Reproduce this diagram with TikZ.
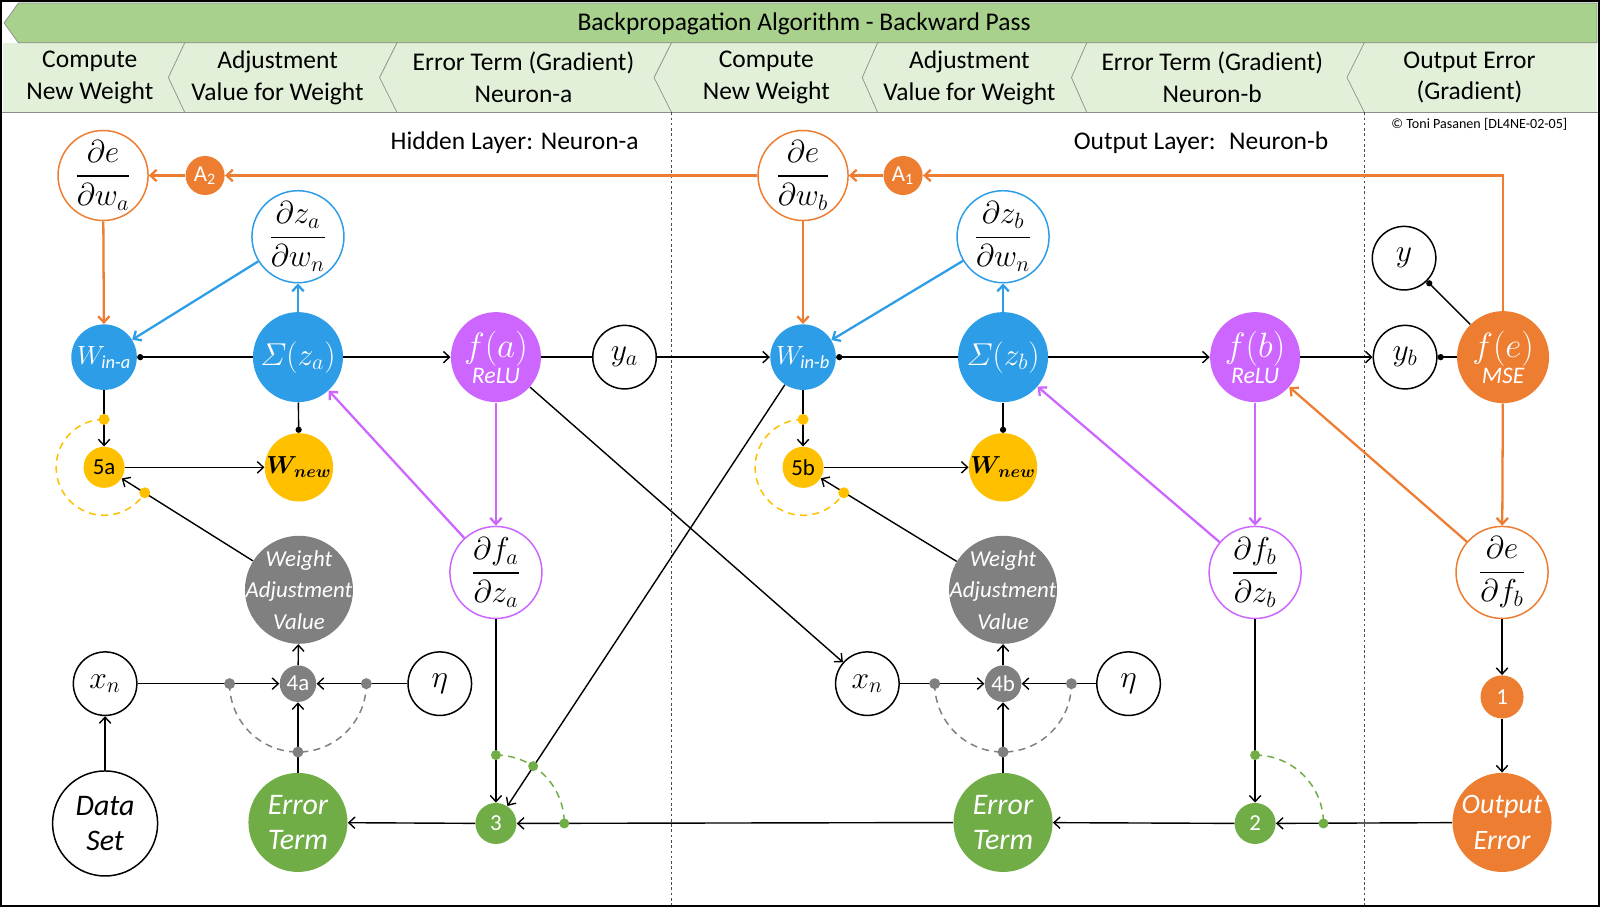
\RequirePackage{fix-cm}
\documentclass[tikz,border=0pt]{standalone}
\usepackage{amsmath}
\usepackage{amssymb}
\usepackage{fontspec}
\setmainfont{Carlito}
\usepackage{tikz}
\usetikzlibrary{arrows.meta}

\definecolor{nblue}{RGB}{46,157,232}
\definecolor{npurple}{RGB}{204,102,255}
\definecolor{norange}{RGB}{237,125,49}
\definecolor{nyellow}{RGB}{255,192,0}
\definecolor{ngreen}{RGB}{112,173,71}
\definecolor{ngray}{RGB}{128,128,128}
\definecolor{hdgreen}{RGB}{169,209,142}
\definecolor{hdlight}{RGB}{226,240,217}

\newcommand{\clin}[1]{\makebox[0pt]{#1}} % line that does not widen its disc
\newcommand{\pfrac}[2]{\clin{$\dfrac{\partial #1}{\partial #2}$}} % partial derivative

\tikzset{>={Straight Barb[length=3.5pt,width=6.5pt]}, % open arrow heads
         disc/.style={circle, inner sep=0pt, minimum size=#1}, % every part of a neuron is a disc
         ring/.style={draw=#1, fill=white, line width=0.85pt},
         filled/.style={fill=#1, text=white},
         fracfont/.style={font=\fontsize{18}{21}\selectfont},
         symfont/.style={font=\fontsize{18}{20}\selectfont},
         tagfont/.style={font=\fontsize{13}{13}\selectfont},
         actfont/.style={align=center, font=\fontsize{13.5}{15}\selectfont\itshape},
         wordfont/.style={align=center, font=\fontsize{17}{20}\selectfont\itshape},
         headfont/.style={align=center, font=\fontsize{14.5}{18}\selectfont},
         dotnode/.style={circle, fill=#1, inner sep=0pt, minimum size=0.22cm},
         arcline/.style={draw=#1, line width=0.85pt, dash pattern=on 4pt off 3pt},
         sepline/.style={draw=black!70, line width=0.5pt, dash pattern=on 1.5pt off 1.5pt},
         every edge/.style={ % black connectors
           draw, ->, line width=0.8pt},
         oline/.style={norange, line width=1.3pt},
         bline/.style={nblue, line width=1.3pt},
         pline/.style={npurple, line width=1.3pt},
         dotline/.style={{Circle[length=3.5pt]}-},
         dotend/.style={-{Circle[length=3.5pt]}}}

\begin{document}
\begin{tikzpicture}[x=0.0204cm, y=0.0204cm]
\useasboundingbox (0,0) rectangle (1568,889);

% header
\fill[hdlight] (3,779) rectangle (1565,847);
\draw[black!45, fill=hdgreen] (18,886) -- (1565,886) -- (1565,847) -- (18,847) -- (4,866.5) -- cycle;
\foreach \t/\m in {181/165, 389/372, 658/641, 860/845, 1065/1050, 1337/1320}
  \draw[black!45] (\t,847) -- (\m,813) -- (\t,779);
\draw[black!45] (0,779) -- (1568,779);
\draw[line width=1pt] (1,1) rectangle (1567,888);

\node[headfont] (title) at (788,866) {Backpropagation Algorithm - Backward Pass};
\node[headfont] (h1) at (88,813) {Compute\\New Weight};
\node[headfont] (h2) at (272,813) {Adjustment\\Value for Weight};
\node[headfont] (h3) at (513,813) {Error Term (Gradient)\\Neuron-a};
\node[headfont] (h4) at (751,813) {Compute\\New Weight};
\node[headfont] (h5) at (950,813) {Adjustment\\Value for Weight};
\node[headfont] (h6) at (1188,813) {Error Term (Gradient)\\Neuron-b};
\node[headfont] (h7) at (1440,813) {Output Error\\(Gradient)};

\node[headfont, anchor=east] (hid) at (632,749) {Hidden Layer: Neuron-a};
\node[headfont] (outl) at (1177,749) {Output Layer:~ Neuron-b};
\node[font=\fontsize{8}{8}\selectfont, anchor=east] (copy) at (1542,767) {\textcopyright{} Toni Pasanen [DL4NE-02-05]};

\draw[sepline] (658,779) -- (658,2);
\draw[sepline] (1337,779) -- (1337,2);

% hidden layer: neuron a
\node[disc=1.80cm, ring=norange, fracfont] (dewa) at (101,717) {\pfrac{e}{w_a}};
\node[disc=0.78cm, filled=norange, tagfont] (A2) at (201,717) {A\textsubscript{2}};
\node[disc=1.84cm, ring=nblue, fracfont] (dzwa) at (292,657) {\pfrac{z_a}{w_n}};
\node[disc=1.31cm, filled=nblue, font=\fontsize{15}{15}\selectfont] (wina) at (102,539) {$W_{\mathit{in\text{-}a}}$};
\node[disc=1.80cm, filled=nblue, font=\fontsize{18}{18}\selectfont] (suma) at (292,539) {$\varSigma(z_a)$};
\node[disc=1.80cm, filled=npurple, actfont] (fa) at (486,539) {{\fontsize{20}{20}\selectfont$f(a)$}\\[0pt]ReLU};
\node[disc=1.27cm, ring=black, symfont] (ya) at (612,539) {$y_a$};
\node[disc=0.82cm, filled=nyellow, text=black, tagfont] (n5a) at (102,431) {5a};
\node[disc=1.31cm, filled=nyellow, text=black, font=\fontsize{14}{14}\selectfont] (wnewa) at (293,431) {$\boldsymbol{W}_{\!\boldsymbol{new}}$};
\node[disc=1.84cm, ring=npurple, fracfont] (dfza) at (486,328) {\pfrac{f_a}{z_a}};
\node[disc=2.16cm, filled=ngray, font=\fontsize{13}{18}\selectfont\itshape, align=center] (wava) at (293,311) {\clin{Weight}\\\clin{Adjustment}\\\clin{Value}};
\node[disc=1.27cm, ring=black, symfont] (xna) at (103,219) {$x_n$};
\node[disc=0.73cm, filled=ngray, tagfont] (n4a) at (292,219) {4a};
\node[disc=1.27cm, ring=black, symfont] (etaa) at (431,219) {$\eta$};
\node[disc=2.10cm, ring=black, wordfont] (data) at (103,82) {Data\\Set};
\node[disc=1.98cm, filled=ngreen, wordfont] (erra) at (292,83) {Error\\Term};
\node[disc=0.82cm, filled=ngreen, tagfont] (n3) at (486,82) {3};

% output layer: neuron b
\node[disc=1.80cm, ring=norange, fracfont] (dewb) at (787,717) {\pfrac{e}{w_b}};
\node[disc=0.78cm, filled=norange, tagfont] (A1) at (885,717) {A\textsubscript{1}};
\node[disc=1.84cm, ring=nblue, fracfont] (dzwb) at (983,657) {\pfrac{z_b}{w_n}};
\node[disc=1.31cm, filled=nblue, font=\fontsize{15}{15}\selectfont] (winb) at (787,539) {$W_{\mathit{in\text{-}b}}$};
\node[disc=1.80cm, filled=nblue, font=\fontsize{18}{18}\selectfont] (sumb) at (983,539) {$\varSigma(z_b)$};
\node[disc=1.80cm, filled=npurple, actfont] (fb) at (1230,539) {{\fontsize{20}{20}\selectfont$f(b)$}\\[0pt]ReLU};
\node[disc=1.27cm, ring=black, symfont] (yb) at (1377,539) {$y_b$};
\node[disc=0.82cm, filled=nyellow, text=black, tagfont] (n5b) at (787,431) {5b};
\node[disc=1.31cm, filled=nyellow, text=black, font=\fontsize{14}{14}\selectfont] (wnewb) at (983,431) {$\boldsymbol{W}_{\!\boldsymbol{new}}$};
\node[disc=1.84cm, ring=npurple, fracfont] (dfzb) at (1230,328) {\pfrac{f_b}{z_b}};
\node[disc=2.16cm, filled=ngray, font=\fontsize{13}{18}\selectfont\itshape, align=center] (wavb) at (983,311) {\clin{Weight}\\\clin{Adjustment}\\\clin{Value}};
\node[disc=1.27cm, ring=black, symfont] (xnb) at (850,219) {$x_n$};
\node[disc=0.73cm, filled=ngray, tagfont] (n4b) at (983,219) {4b};
\node[disc=1.27cm, ring=black, symfont] (etab) at (1106,219) {$\eta$};
\node[disc=1.98cm, filled=ngreen, wordfont] (errb) at (983,83) {Error\\Term};
\node[disc=0.82cm, filled=ngreen, tagfont] (n2) at (1230,82) {2};

% output error
\node[disc=1.27cm, ring=black, symfont] (yy) at (1376,636) {$y$};
\node[disc=1.84cm, filled=norange, actfont] (fe) at (1473,539) {{\fontsize{20}{20}\selectfont$f(e)$}\\[0pt]MSE};
\node[disc=1.84cm, ring=norange, fracfont] (defb) at (1472,328) {\pfrac{e}{f_b}};
\node[disc=0.86cm, filled=norange, tagfont] (n1) at (1472,206) {1};
\node[disc=1.98cm, filled=norange, font=\fontsize{16}{21}\selectfont\itshape, align=center] (outerr) at (1472,83) {\clin{Output}\\\clin{Error}};

% gradients flowing back
\draw[oline, ->] (fe) |- (A1);
\draw (A1) edge[oline] (dewb);
\draw (dewb) edge[oline] (A2);
\draw (A2) edge[oline] (dewa);
\draw (dewa) edge[oline] (wina);
\draw (dewb) edge[oline] (winb);
\draw (fe) edge[oline] (defb);
\draw (defb) edge[oline] (fb);

\draw (suma) edge[bline] (dzwa);
\draw (dzwa) edge[bline] (wina);
\draw (sumb) edge[bline] (dzwb);
\draw (dzwb) edge[bline] (winb);

\draw (fa) edge[pline] (dfza);
\draw (dfza) edge[pline] (suma);
\draw (fb) edge[pline] (dfzb);
\draw (dfzb) edge[pline] (sumb);

% forward chain
\draw (wina) edge[dotline] (suma);
\draw (suma) edge (fa);
\draw (fa) edge[-] (ya);
\draw (ya) edge (winb);
\draw (winb) edge[dotline] (sumb);
\draw (sumb) edge (fb);
\draw (fb) edge (yb);
\draw (yb) edge[dotline] (fe);
\draw (yy) edge[dotline] (fe);
\draw (suma) edge[dotend] (wnewa);
\draw (sumb) edge[dotend] (wnewb);

% weight update
\draw (wina) edge (n5a);
\draw (winb) edge (n5b);
\draw (n5a) edge (wnewa);
\draw (n5b) edge (wnewb);
\draw (wava) edge (n5a);
\draw (wavb) edge (n5b);
\draw (n4a) edge (wava);
\draw (n4b) edge (wavb);
\draw (xna) edge (n4a);
\draw (etaa) edge (n4a);
\draw (erra) edge (n4a);
\draw (xnb) edge (n4b);
\draw (etab) edge (n4b);
\draw (errb) edge (n4b);
\draw (data) edge (xna);
\draw (fa) edge (xnb);

% error terms
\draw (winb) edge (n3);
\draw (dfza) edge (n3);
\draw (n3) edge (erra);
\draw (errb) edge (n3);
\draw (dfzb) edge (n2);
\draw (n2) edge (errb);
\draw (outerr) edge (n2);
\draw (defb) edge (n1);
\draw (n1) edge (outerr);

% dashed arcs and their dots
\foreach \c in {n5a,n5b}
  \draw[arcline=nyellow] (\c) ++(90:47) arc[start angle=90, end angle=328, radius=47];
\foreach \c in {n4a,n4b}
  \draw[arcline=ngray] (\c) ++(180:67) arc[start angle=180, end angle=360, radius=67];
\foreach \c in {n3,n2}
  \draw[arcline=ngreen] (\c) ++(90:67) arc[start angle=90, end angle=0, radius=67];

\foreach \c/\a in {n5a/90, n5a/328, n5b/90, n5b/328}
  \path (\c) ++(\a:47) node[dotnode=nyellow] (\c-\a) {};
\foreach \c/\a in {n4a/180, n4a/270, n4a/0, n4b/180, n4b/270, n4b/0}
  \path (\c) ++(\a:67) node[dotnode=ngray] (\c-\a) {};
\foreach \c/\a in {n3/90, n3/57, n3/0, n2/90, n2/0}
  \path (\c) ++(\a:67) node[dotnode=ngreen, minimum size=0.2cm] (\c-\a) {};

\end{tikzpicture}
\end{document}
